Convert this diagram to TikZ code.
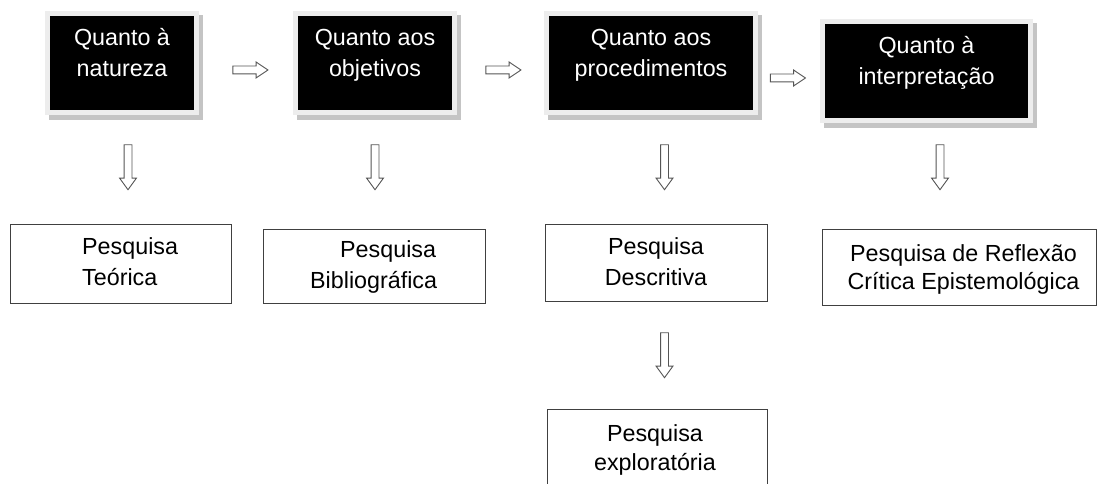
\documentclass[tikz,border=0pt]{standalone}
\usepackage{fontspec}
\setmainfont{Liberation Sans}
\usetikzlibrary{shapes.arrows}
\definecolor{framegray}{HTML}{EDEDED}
\definecolor{shadowgray}{HTML}{C4C4C4}
\definecolor{boxline}{HTML}{404040}
\definecolor{arrowline}{HTML}{555555}
\tikzset{
  txt/.style={font=\fontsize{23.3}{28}\selectfont, inner sep=0pt, anchor=base},
  wtxt/.style={txt, text=white},
  darkbox/.style={fill=black, draw=none, inner sep=0pt, anchor=north west},
  whitebox/.style={fill=white, draw=boxline, line width=1.4pt, inner sep=0pt, anchor=north west},
  downarrow/.style={single arrow, draw=arrowline, fill=white, line width=0.9pt,
    minimum height=45, single arrow head extend=4.5,
    single arrow tip angle=72, shape border rotate=270, inner sep=3.5pt},
  rightarrow/.style={single arrow, draw=arrowline, fill=white, line width=0.9pt,
    minimum height=35, single arrow head extend=4,
    single arrow tip angle=68, inner sep=3.5pt},
}
% #1 name, #2 x1, #3 y1 (from top), #4 x2, #5 y2, #6 line 1, #7 line 2
\newcommand{\TopBox}[7]{%
  \fill[shadowgray] ({#2-1},{484-#3+1}) rectangle ({#4+9},{484-#5-10});
  \fill[framegray] ({#2-5},{484-#3+5}) rectangle ({#4+5},{484-#5-5});
  \node[darkbox, minimum width={#4-#2}, minimum height={#5-#3}] (#1) at (#2,{484-#3}) {};
  \node[wtxt] (#1-a) at ({(#2+#4)/2},{484-#3-30}) {#6};
  \node[wtxt] (#1-b) at ({(#2+#4)/2},{484-#3-61}) {#7};
}
\begin{document}
\begin{tikzpicture}[x=1pt,y=1pt]
\useasboundingbox (0,0) rectangle (1097,484);
\clip (0,0) rectangle (1097,484);

% top row
\TopBox{b1}{50}{16}{194}{110}{Quanto à}{natureza}
\TopBox{b2}{298}{16}{452}{110}{Quanto aos}{objetivos}
\TopBox{b3}{549}{16}{753}{110}{Quanto aos}{procedimentos}
\TopBox{b4}{825}{24}{1028}{118}{Quanto à}{interpretação}

% horizontal arrows
\node[rightarrow] (h1) at (247.5,{484-70}) {};
\node[rightarrow] (h2) at (500.5,{484-70}) {};
\node[rightarrow] (h3) at (785,{484-78}) {};

% down arrows
\node[downarrow] (d1) at (128,{484-164.5}) {};
\node[downarrow] (d2) at (375,{484-164.5}) {};
\node[downarrow] (d3) at (664.5,{484-164.5}) {};
\node[downarrow] (d4) at (940,{484-164.5}) {};
\node[downarrow] (d5) at (664.5,{484-352.5}) {};

% lower boxes
\node[whitebox, minimum width=221, minimum height=79] (l1) at (10,{484-224}) {};
\node[txt, anchor=base west] (l1-a) at (82,{484-255}) {Pesquisa};
\node[txt, anchor=base west] (l1-b) at (82,{484-286}) {Teórica};

\node[whitebox, minimum width=222, minimum height=74] (l2) at (263,{484-229}) {};
\node[txt, anchor=base west] (l2-a) at (340,{484-258}) {Pesquisa};
\node[txt, anchor=base west] (l2-b) at (310,{484-289}) {Bibliográfica};

\node[whitebox, minimum width=222, minimum height=77] (l3) at (545,{484-224}) {};
\node[txt] (l3-a) at (656,{484-255}) {Pesquisa};
\node[txt] (l3-b) at (656,{484-286}) {Descritiva};

\node[whitebox, minimum width=274, minimum height=76] (l4) at (822,{484-229}) {};
\node[txt] (l4-a) at (963.5,{484-262}) {Pesquisa de Reflexão};
\node[txt] (l4-b) at (963.5,{484-290}) {Crítica Epistemológica};

\node[whitebox, minimum width=220, minimum height=90] (l5) at (547,{484-409}) {};
\node[txt] (l5-a) at (655,{484-442}) {Pesquisa};
\node[txt] (l5-b) at (655,{484-471}) {exploratória};
\end{tikzpicture}
\end{document}
